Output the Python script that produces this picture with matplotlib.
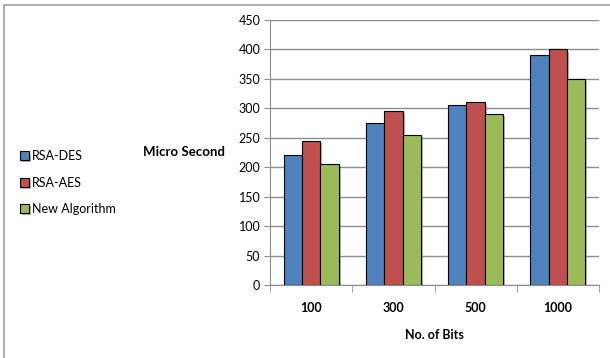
import numpy as np
import matplotlib
matplotlib.use("Agg")
import matplotlib.pyplot as plt
import matplotlib.patheffects as pe
from matplotlib.lines import Line2D

plt.rcParams['font.family'] = ['Lato', 'DejaVu Sans']

# data
bits = ['100', '300', '500', '1000']
rsa_des = [220, 275, 305, 390]
rsa_aes = [245, 295, 310, 400]
new_alg = [205, 255, 290, 350]
series = [('RSA-DES', rsa_des, '#4F81BD'),
          ('RSA-AES', rsa_aes, '#C0504D'),
          ('New Algorithm', new_alg, '#9BBB59')]

fig = plt.figure(figsize=(6.1, 3.58), dpi=100)
ax = fig.add_axes([0.4426, 0.2039, 0.982 - 0.4426, 0.9441 - 0.2039])

# chart border (only top and left edges are visible in the crop)
fig.lines.append(Line2D([0.0065, 1.0], [0.985, 0.985], transform=fig.transFigure,
                        color='#B0B0B0', lw=1.5))
fig.lines.append(Line2D([0.0065, 0.0065], [0.0, 0.985], transform=fig.transFigure,
                        color='#B0B0B0', lw=1.5))

x = np.arange(len(bits))
w = 1 / 4.5
shadow = [pe.SimplePatchShadow(offset=(1.5, -1.5), shadow_rgbFace='#808080', alpha=0.6),
          pe.Normal()]
handles = []
for i, (name, vals, col) in enumerate(series):
    b = ax.bar(x + (i - 1) * w, vals, width=w, color=col, edgecolor='black',
               lw=0.8, label=name, zorder=3)
    for p in b:
        p.set_path_effects(shadow)
    handles.append(b)

ax.set_xlim(-0.5, len(bits) - 0.5)
ax.set_ylim(0, 450)
ax.set_yticks(np.arange(0, 451, 50))
ax.yaxis.grid(True, color='#8C8C8C', lw=1, zorder=0)
ax.set_axisbelow(True)

# category labels centred, tick marks between categories
ax.set_xticks(x)
ax.set_xticklabels(bits, fontsize=9, fontweight='bold')
ax.tick_params(axis='x', length=0, pad=12)
ax.set_xticks(np.arange(-0.5, len(bits)), minor=True)
ax.tick_params(axis='x', which='minor', length=5, color='#8C8C8C')
ax.tick_params(axis='y', length=4, color='#8C8C8C', labelsize=9, pad=3)

for s in ['top', 'right']:
    ax.spines[s].set_visible(False)
for s in ['left', 'bottom']:
    ax.spines[s].set_color('#8C8C8C')

ax.set_xlabel('No. of Bits', fontsize=9, fontweight='bold', labelpad=11)
fig.text(0.234, 0.575, 'Micro Second', fontsize=9.5, fontweight='bold',
         ha='left', va='center')

fig.legend(handles=handles, loc='center left', bbox_to_anchor=(0.015, 0.49),
           frameon=False, fontsize=9, handlelength=0.7, handleheight=0.7,
           handletextpad=0.2, labelspacing=1.15)

fig.savefig('out.png', dpi=100)
